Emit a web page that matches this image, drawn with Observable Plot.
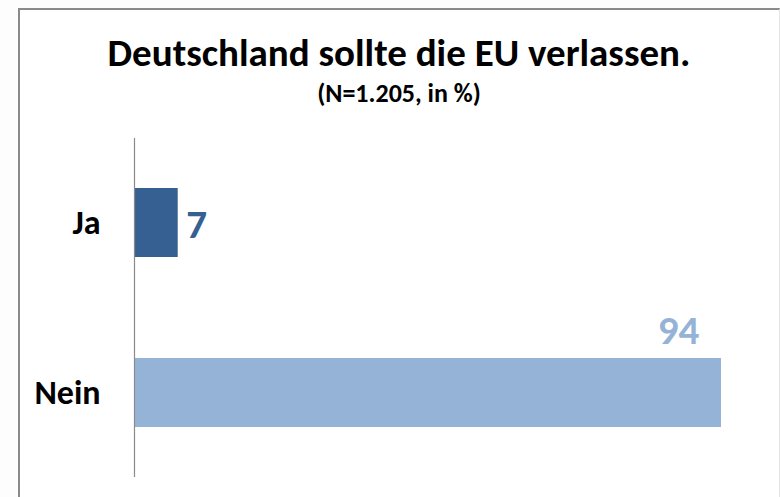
<!DOCTYPE html>
<html>
<head>
<meta charset="utf-8">
<script src="https://cdn.jsdelivr.net/npm/d3@7"></script>
<script src="https://cdn.jsdelivr.net/npm/@observablehq/plot@0.6"></script>
<style>
  html, body { margin: 0; padding: 0; background: #fdfdfd; }
  #page { position: relative; width: 780px; height: 497px; overflow: hidden; font-family: Calibri, Carlito, Lato, sans-serif; }
  #frame { position: absolute; left: 18px; top: 8px; width: 759px; height: 495px; background: #fff;
           border-left: 2px solid #8a8a8a; border-top: 2px solid #8a8a8a; border-right: 1px solid #e4e4e4; }
  #title { position: absolute; left: 18px; width: 762px; top: 33px; text-align: center; font-weight: bold; font-size: 39px; line-height: 1; color: #000; }
  #subtitle { position: absolute; left: 18px; width: 762px; top: 80px; text-align: center; font-weight: bold; font-size: 26px; line-height: 1; color: #000; }
  #chart { position: absolute; left: 0; top: 120px; }
</style>
</head>
<body>
<div id="page">
  <div id="frame"></div>
  <div id="title">Deutschland sollte die EU verlassen.</div>
  <div id="subtitle">(N=1.205, in %)</div>
  <div id="chart"></div>
</div>
<script>
const categories = ["Ja", "Nein"];
const values = [7, 94];
const colors = ["#366092", "#95b3d7"];

const data = categories.map((c, i) => ({category: c, value: values[i]}));

const chart = Plot.plot({
  width: 780,
  height: 357,
  marginTop: 18,
  marginBottom: 0,
  marginLeft: 134,
  marginRight: 59,
  style: {background: "transparent", fontFamily: "Calibri, Carlito, Lato, sans-serif"},
  x: {domain: [0, 94], axis: null},
  y: {domain: categories, paddingInner: 0.595, paddingOuter: 0.29, label: null},
  color: {type: "ordinal", domain: categories, range: colors},
  marks: [
    Plot.barX(data, {x: "value", y: "category", fill: "category"}),
    Plot.ruleX([0], {stroke: "#8a8a8a", strokeWidth: 1.2}),
    Plot.axisY({tickSize: 0, tickPadding: 34, fontSize: 34, fontWeight: "bold", fill: "#000", label: null}),
    Plot.text(data.filter(d => d.category === "Ja"), {x: "value", y: "category", text: d => String(d.value), fill: "category", textAnchor: "start", dx: 8, dy: 2, fontSize: 41, fontWeight: "bold"}),
    Plot.text(data.filter(d => d.category === "Nein"), {x: "value", y: "category", text: d => String(d.value), fill: "category", textAnchor: "middle", dx: -43, dy: -62, fontSize: 41, fontWeight: "bold"})
  ]
});
document.getElementById("chart").appendChild(chart);
</script>
</body>
</html>
